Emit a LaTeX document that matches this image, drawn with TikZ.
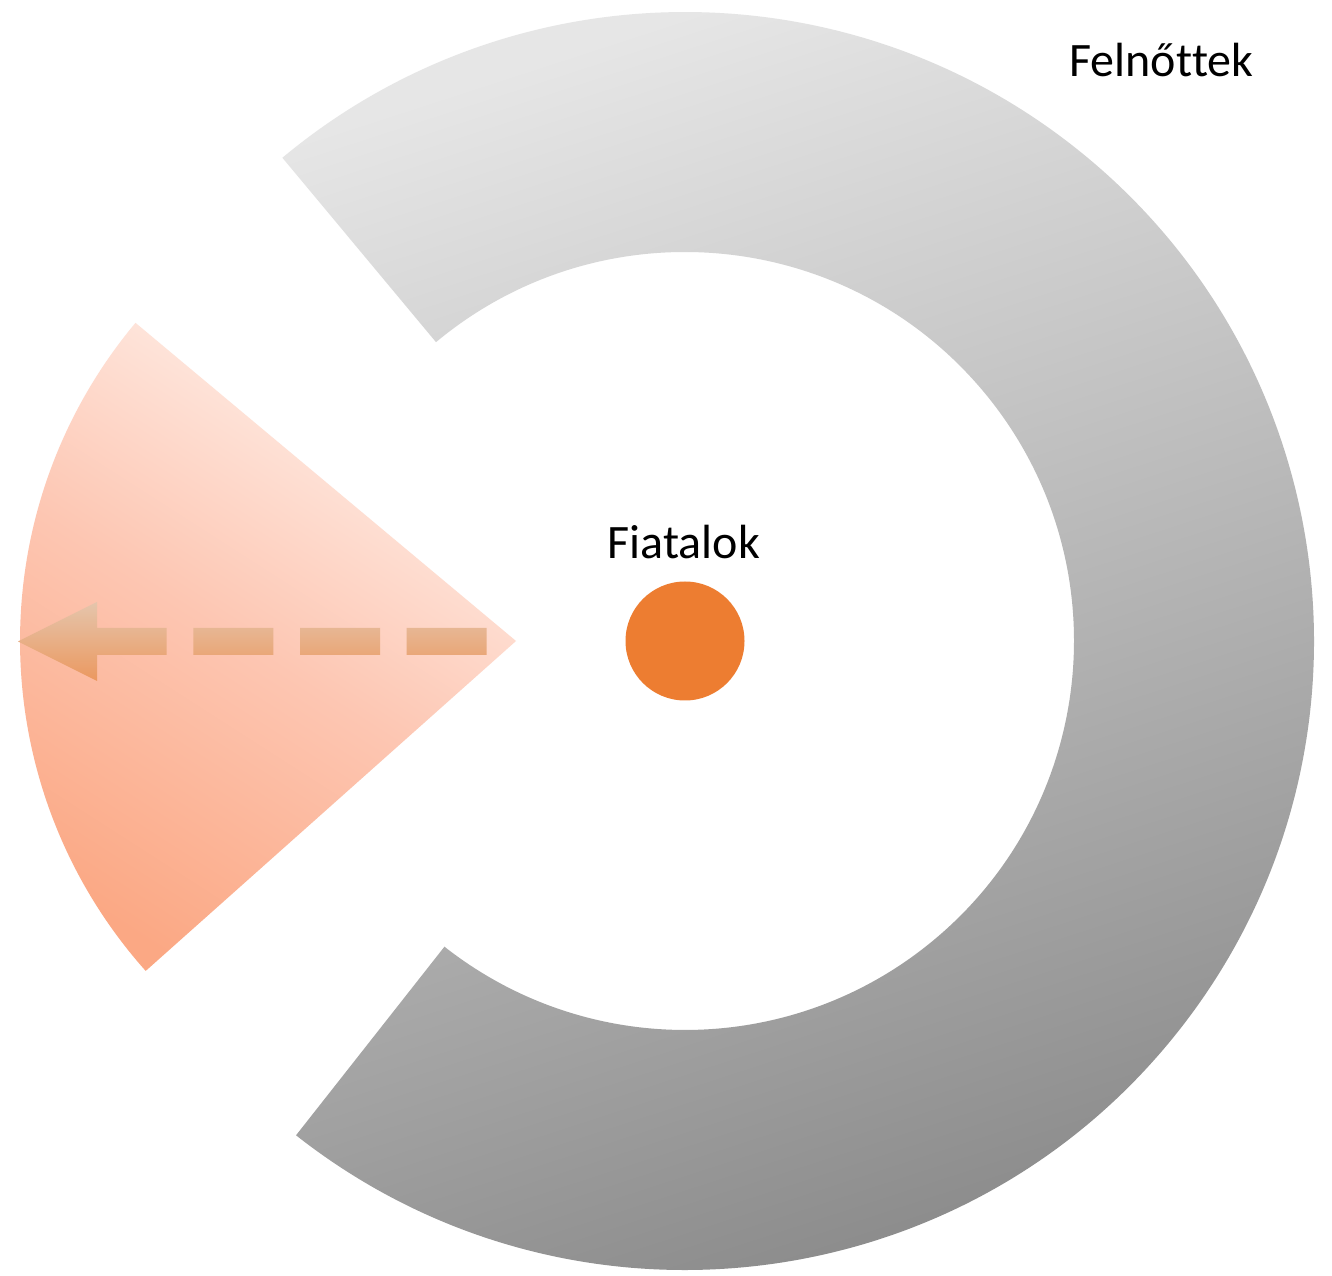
\documentclass[tikz,border=0pt]{standalone}
\usepackage{fontspec}
\setmainfont{Carlito}[Ligatures=NoCommon]
\usetikzlibrary{calc}
\definecolor{ringtop}{RGB}{230,230,230}
\definecolor{ringbot}{RGB}{134,134,134}
\definecolor{sectop}{RGB}{255,240,234}
\definecolor{secmid}{RGB}{253,198,178}
\definecolor{secbot}{RGB}{251,168,132}
\definecolor{arrtop}{RGB}{229,197,172}
\definecolor{arrbot}{RGB}{235,152,95}
\definecolor{dotorange}{RGB}{237,125,49}
\begin{document}
\begin{tikzpicture}[x=1pt,y=1pt,
  txt/.style={font=\fontsize{48}{58}\selectfont, inner sep=0pt, anchor=base},
  ringshade/.style={top color=ringtop, bottom color=ringbot, shading angle=18},
  sectorshade/.style={top color=sectop, bottom color=secbot, middle color=secmid, shading angle=-32.7},
  arrowshade/.style={top color=arrtop, bottom color=arrbot}]
\useasboundingbox (0,0) rectangle (1332,1275);
\fill[white] (0,0) rectangle (1332,1275);
\coordinate (C) at (685,634);
\coordinate (A) at (516,634);
% grey ring (adults)
\shade[ringshade]
  ($(C)+(-128.2:629pt)$) arc[start angle=-128.2, end angle=129.8, radius=629pt]
  -- ($(C)+(129.8:389pt)$) arc[start angle=129.8, end angle=-128.2, radius=389pt] -- cycle;
% orange sector
\shade[sectorshade]
  (A) -- ($(A)+(140.1:496pt)$) arc[start angle=140.1, end angle=221.7, radius=496pt] -- cycle;
% dashed arrow
\shade[arrowshade]
  (18,633.5) -- (97,673) -- (97,647) -- (166.7,647) -- (166.7,620) -- (97,620) -- (97,594) -- cycle
  (193.3,620) rectangle (273.3,647)
  (300,620) rectangle (380,647)
  (406.7,620) rectangle (486.7,647);
% centre dot
\node[circle, fill=dotorange, minimum size=119pt, inner sep=0pt] (dot) at (C) {};
\node[txt] (young) at (684,716) {Fiatalok};
\node[txt] (adult) at (1161.5,1198) {Felnőt\kern0pt tek};
\end{tikzpicture}
\end{document}
